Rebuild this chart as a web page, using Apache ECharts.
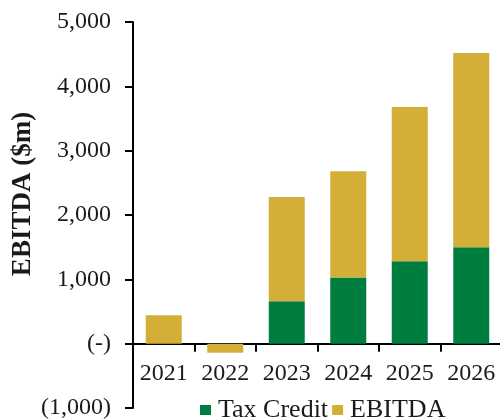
<!DOCTYPE html>
<html>
<head>
<meta charset="utf-8">
<script src="https://cdn.jsdelivr.net/npm/echarts@6/dist/echarts.min.js"></script>
<style>
  html, body { margin: 0; padding: 0; background: #fff; }
  #chart { width: 500px; height: 420px; }
</style>
</head>
<body>
<div id="chart"></div>
<script>
// Annual EBITDA build-up ($m): tax credit at the base, EBITDA stacked above
const years = ['2021', '2022', '2023', '2024', '2025', '2026'];
const taxCredit = [0, 0, 660, 1030, 1280, 1500];
const ebitda = [440, -140, 1620, 1650, 2400, 3020];
const seriesNames = ['Tax Credit', 'EBITDA'];

const FONT = '"Liberation Serif", "Times New Roman", serif';
const GREEN = '#007E40';
const GOLD = '#D4AF37';
const INK = '#1a1a1a';

function fmtAxis(v) {
  if (v === 0) return '(-)';
  const s = Math.abs(v).toLocaleString('en-US');
  return v < 0 ? '(' + s + ')' : s;
}

const chart = echarts.init(document.getElementById('chart'), null, { renderer: 'canvas' });
chart.setOption({
  animation: false,
  backgroundColor: '#fff',
  textStyle: { fontFamily: FONT },
  grid: { left: 133, right: -2, top: 22, bottom: 12, containLabel: false, outerBoundsMode: 'none' },
  legend: {
    data: seriesNames,
    left: 200,
    top: 397,
    padding: 0,
    icon: 'rect',
    itemWidth: 11,
    itemHeight: 10,
    itemGap: 4,
    textStyle: { fontFamily: FONT, fontSize: 26, color: INK, padding: [0, 0, 0, 2] }
  },
  xAxis: [
    {
      // axis line and ticks sit on the zero line
      type: 'category',
      data: years,
      axisLine: { onZero: true, lineStyle: { color: '#000', width: 2 } },
      axisTick: { show: true, interval: 0, length: 8, lineStyle: { color: '#000', width: 2 } },
      axisLabel: { show: false }
    },
    {
      // year labels just under the zero line
      type: 'category',
      data: years,
      position: 'bottom',
      offset: -54,
      axisLine: { show: false, onZero: false },
      axisTick: { show: false },
      axisLabel: { interval: 0, fontFamily: FONT, fontSize: 24, color: INK, margin: 8 }
    }
  ],
  yAxis: {
    type: 'value',
    min: -1000,
    max: 5000,
    interval: 1000,
    name: 'EBITDA ($m)',
    nameLocation: 'middle',
    nameGap: 96,
    nameMoveOverlap: false,
    nameRotate: 90,
    nameTextStyle: { fontFamily: FONT, fontSize: 27, fontWeight: 'bold', color: INK, padding: [0, 0, 0, 42] },
    axisLine: { show: true, lineStyle: { color: '#000', width: 2 } },
    axisTick: { show: true, length: 8, lineStyle: { color: '#000', width: 2 } },
    splitLine: { show: false },
    axisLabel: {
      fontFamily: FONT, fontSize: 24, color: INK, margin: 22,
      formatter: fmtAxis
    }
  },
  series: [
    {
      name: seriesNames[0], type: 'bar', stack: 'total', data: taxCredit,
      xAxisIndex: 0, barWidth: 36, itemStyle: { color: GREEN }
    },
    {
      name: seriesNames[1], type: 'bar', stack: 'total', data: ebitda,
      xAxisIndex: 0, barWidth: 36, itemStyle: { color: GOLD }
    }
  ]
});
</script>
</body>
</html>
